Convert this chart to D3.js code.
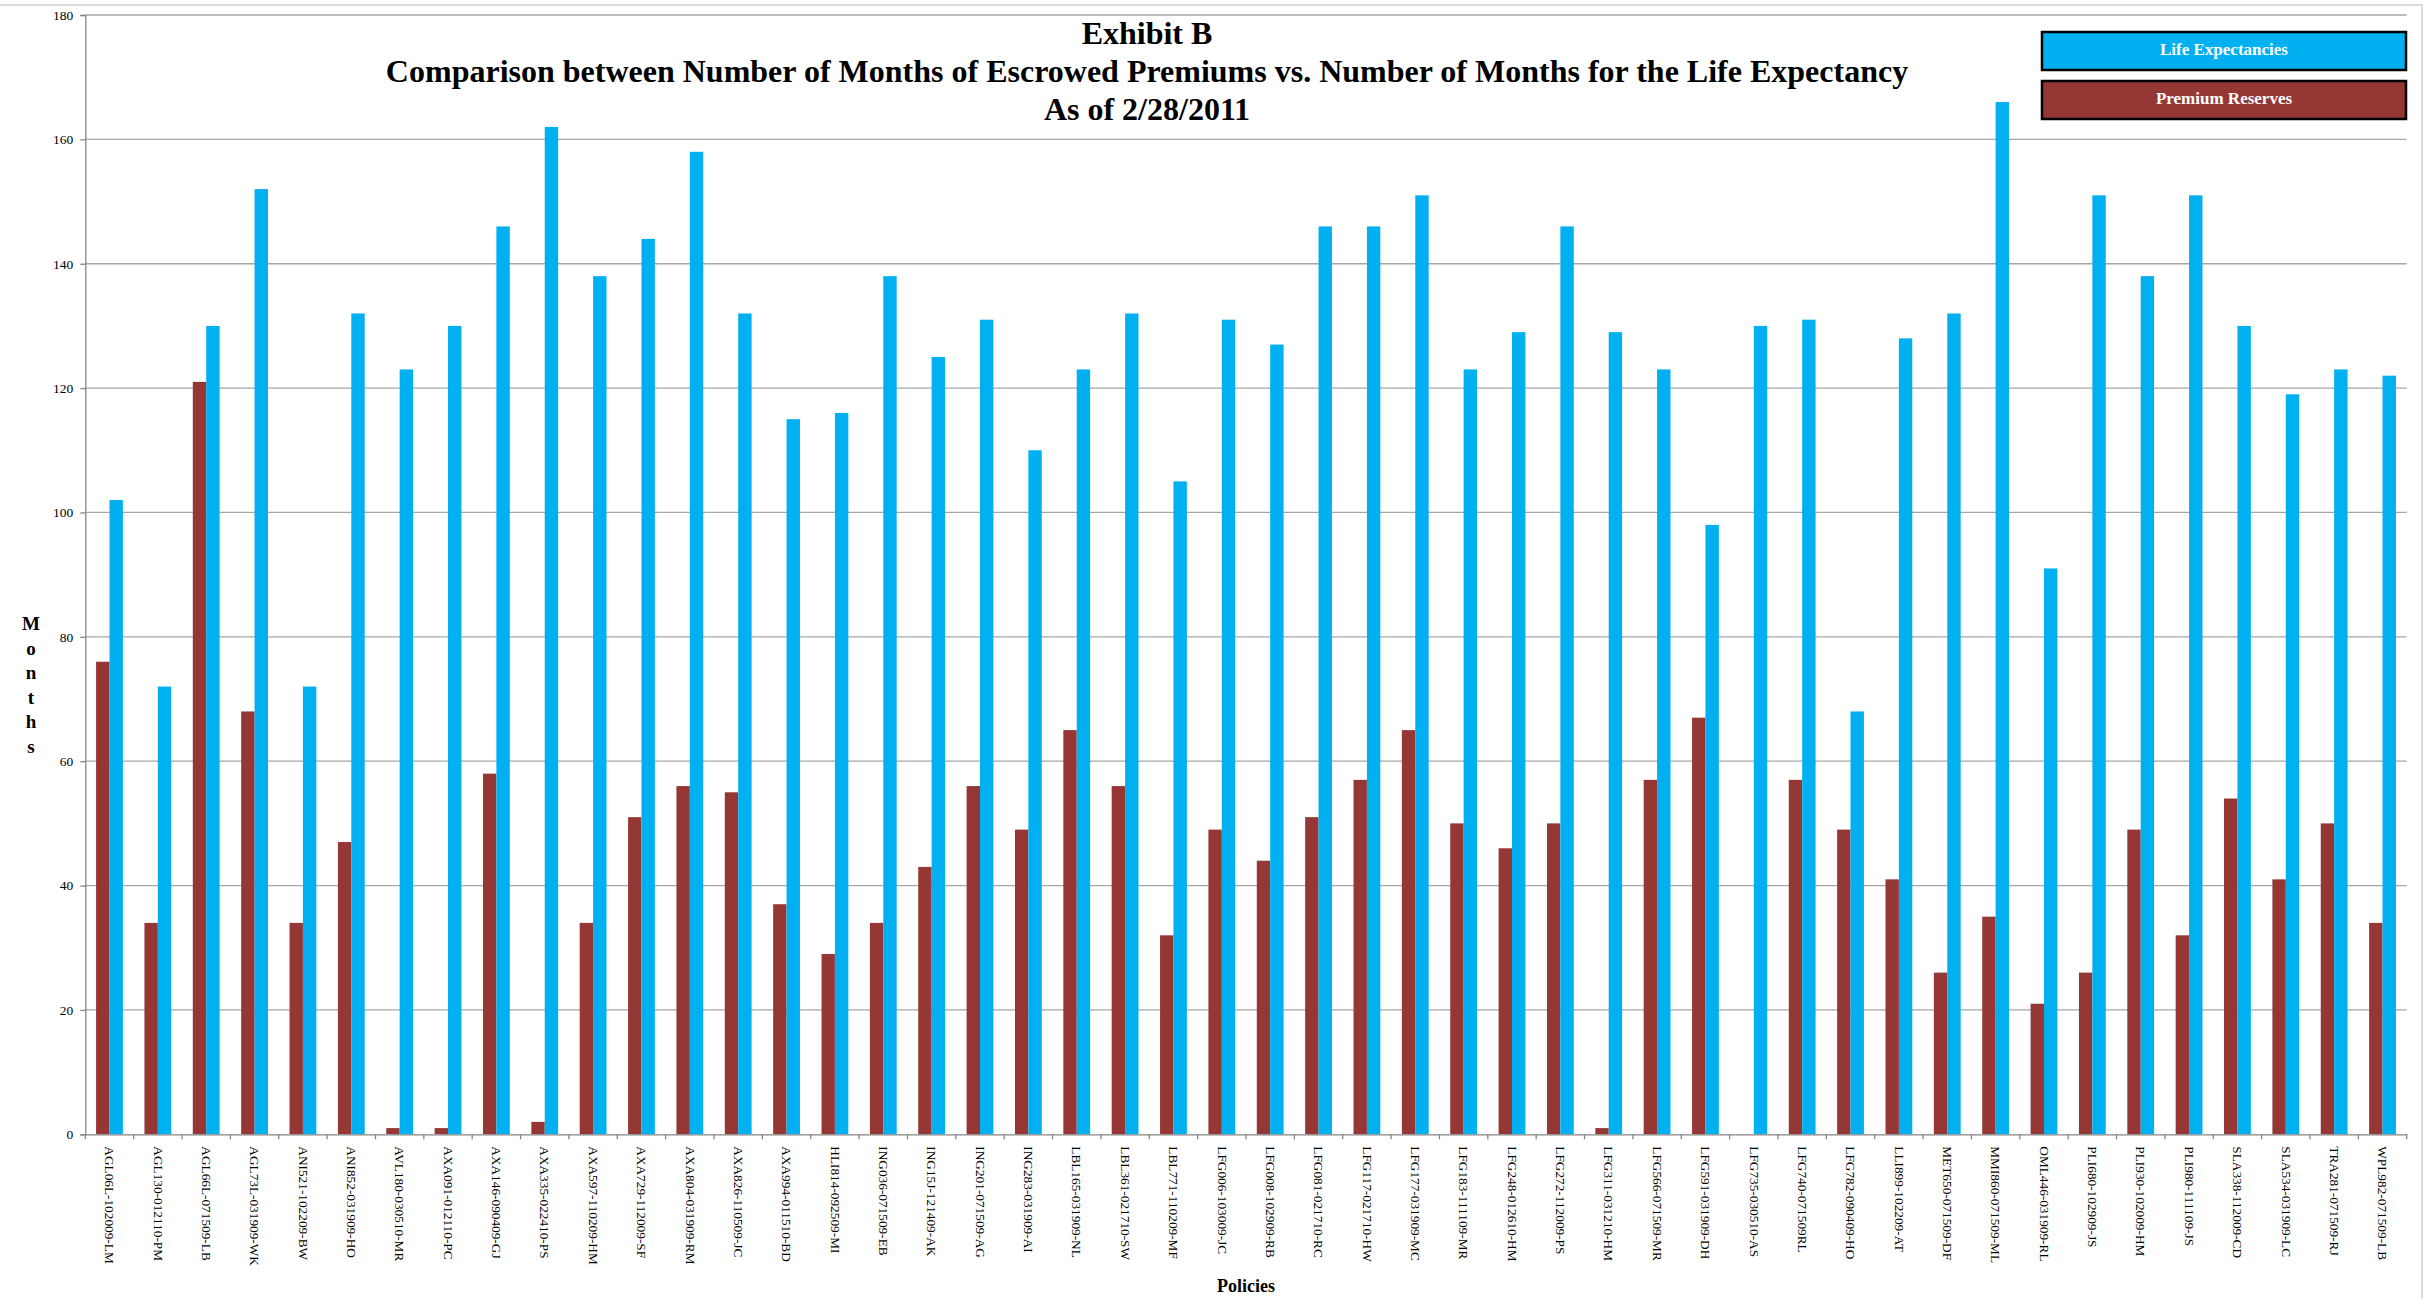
<!DOCTYPE html>
<html lang="en">
<head>
  <meta charset="UTF-8" />
  <title>Exhibit B</title>
  <style>
    body { margin: 0; background: #fff; }
    svg text { font-family: "Liberation Serif", "Times New Roman", serif; }
  </style>
</head>
<body>
  <div id="chart"></div>
<script src="https://d3js.org/d3.v7.min.js"></script>
<script>
  // policies along the x axis
  const policies = [
    'AGL06L-102009-LM','AGL130-012110-PM','AGL66L-071509-LB','AGL73L-031909-WK',
    'ANI521-102209-BW','ANI852-031909-HO','AVL180-030510-MR','AXA091-012110-PC',
    'AXA146-090409-GJ','AXA335-022410-PS','AXA597-110209-HM','AXA729-112009-SF',
    'AXA804-031909-RM','AXA826-110509-JC','AXA994-011510-BD','HLI814-092509-MI',
    'ING036-071509-EB','ING15J-121409-AK','ING201-071509-AG','ING283-031909-AI',
    'LBL165-031909-NL','LBL361-021710-SW','LBL771-110209-MF','LFG006-103009-JC',
    'LFG008-102909-RB','LFG081-021710-RC','LFG117-021710-HW','LFG177-031909-MC',
    'LFG183-111109-MR','LFG248-012610-HM','LFG272-112009-PS','LFG311-031210-HM',
    'LFG566-071509-MR','LFG591-031909-DH','LFG735-030510-AS','LFG740-071509RL',
    'LFG782-090409-HO','LLI899-102209-AT','MET650-071509-DF','MMI860-071509-ML',
    'OML446-031909-RL','PLI680-102909-JS','PLI930-102009-HM','PLI980-111109-JS',
    'SLA338-112009-CD','SLA534-031909-LC','TRA281-071509-RJ','WPL982-071509-LB'
  ];
  const premiumReserves = [
    76,34,121,68,34,47,1,1,58,2,34,51,56,55,37,29,
    34,43,56,49,65,56,32,49,44,51,57,65,50,46,50,1,
    57,67,0,57,49,41,26,35,21,26,49,32,54,41,50,34
  ];
  const lifeExpectancies = [
    102,72,130,152,72,132,123,130,146,162,138,144,158,132,115,116,
    138,125,131,110,123,132,105,131,127,146,146,151,123,129,146,129,
    123,98,130,131,68,128,132,166,91,151,138,151,130,119,123,122
  ];
  const yTicks = [0,20,40,60,80,100,120,140,160,180];
  const titleLines = [
    'Exhibit B',
    'Comparison between Number of Months of Escrowed Premiums vs. Number of Months for the Life Expectancy',
    'As of 2/28/2011'
  ];
  const seriesNames = ['Life Expectancies','Premium Reserves'];
  const seriesColors = ['#00b0f0','#953735'];

  const W = 2430, H = 1299;
  const plot = {left: 85.3, right: 2406.7, top: 15, bottom: 1134.3};

  const svg = d3.select('#chart').append('svg')
    .attr('width', W).attr('height', H);

  // outer frame
  svg.append('rect').attr('x', -2).attr('y', 5).attr('width', 2424).attr('height', H + 10)
    .attr('fill', 'none').attr('stroke', '#d0d0d0').attr('stroke-width', 1.5);

  const x = d3.scaleBand().domain(policies).range([plot.left, plot.right]).padding(0);
  const y = d3.scaleLinear().domain([0, 180]).range([plot.bottom, plot.top]);
  const barW = 13.4;

  // gridlines
  svg.append('g').selectAll('line').data(yTicks.filter(d => d > 0)).join('line')
    .attr('x1', plot.left).attr('x2', plot.right)
    .attr('y1', d => y(d)).attr('y2', d => y(d))
    .attr('stroke', '#a6a6a6').attr('stroke-width', 1.3);

  // bars
  const groups = svg.append('g').selectAll('g').data(policies).join('g');
  groups.append('rect')
    .attr('x', (d) => x(d) + x.bandwidth() / 2 - barW)
    .attr('y', (d, i) => y(premiumReserves[i]))
    .attr('width', barW)
    .attr('height', (d, i) => y(0) - y(premiumReserves[i]))
    .attr('fill', seriesColors[1]);
  groups.append('rect')
    .attr('x', (d) => x(d) + x.bandwidth() / 2)
    .attr('y', (d, i) => y(lifeExpectancies[i]))
    .attr('width', barW)
    .attr('height', (d, i) => y(0) - y(lifeExpectancies[i]))
    .attr('fill', seriesColors[0]);

  // y axis
  const yAxis = svg.append('g').attr('transform', `translate(${plot.left},0)`)
    .call(d3.axisLeft(y).tickValues(yTicks).tickSize(5).tickPadding(7));
  yAxis.select('.domain').attr('stroke', '#868686').attr('stroke-width', 1.3);
  yAxis.selectAll('.tick line').attr('stroke', '#868686').attr('stroke-width', 1.3);
  yAxis.selectAll('.tick text').attr('font-size', 13.5).attr('fill', '#000')
    .style('font-family', '"Liberation Serif", serif');

  // x axis: boundary ticks and rotated labels
  const xAxis = svg.append('g').attr('transform', `translate(0,${plot.bottom})`)
    .call(d3.axisBottom(x).tickSize(0).tickPadding(0));
  xAxis.select('.domain').attr('stroke', '#868686').attr('stroke-width', 1.3);
  xAxis.selectAll('.tick text')
    .attr('font-size', 13.3).attr('fill', '#000')
    .style('font-family', '"Liberation Serif", serif')
    .attr('text-anchor', 'start')
    .attr('transform', 'translate(0,12) rotate(90)')
    .attr('x', 0).attr('y', 0).attr('dy', '0.32em');
  svg.append('g').selectAll('line').data(d3.range(policies.length + 1)).join('line')
    .attr('x1', i => plot.left + i * x.step()).attr('x2', i => plot.left + i * x.step())
    .attr('y1', plot.bottom).attr('y2', plot.bottom + 5)
    .attr('stroke', '#868686').attr('stroke-width', 1.3);

  // title
  svg.append('g').selectAll('text').data(titleLines).join('text')
    .attr('x', 1147).attr('y', (d, i) => 44 + i * 38)
    .attr('text-anchor', 'middle')
    .attr('font-size', 32).attr('font-weight', 'bold')
    .text(d => d);

  // legend
  const leg = svg.append('g').selectAll('g').data(seriesNames).join('g')
    .attr('transform', (d, i) => `translate(2042,${32 + i * 49})`);
  leg.append('rect').attr('width', 364).attr('height', 38)
    .attr('fill', (d, i) => seriesColors[i]).attr('stroke', '#000').attr('stroke-width', 2.5);
  leg.append('text').attr('x', 182).attr('y', 17).attr('dy', '0.35em')
    .attr('text-anchor', 'middle').attr('fill', '#fff')
    .attr('font-size', 17).attr('font-weight', 'bold')
    .text(d => d);

  // axis titles
  svg.append('g').selectAll('text').data('Months'.split('')).join('text')
    .attr('x', 31).attr('y', (d, i) => 630 + i * 24.6)
    .attr('text-anchor', 'middle').attr('font-size', 19).attr('font-weight', 'bold')
    .text(d => d);
  svg.append('text').attr('x', 1246).attr('y', 1292)
    .attr('text-anchor', 'middle').attr('font-size', 18).attr('font-weight', 'bold')
    .text('Policies');
</script>
</body>
</html>
